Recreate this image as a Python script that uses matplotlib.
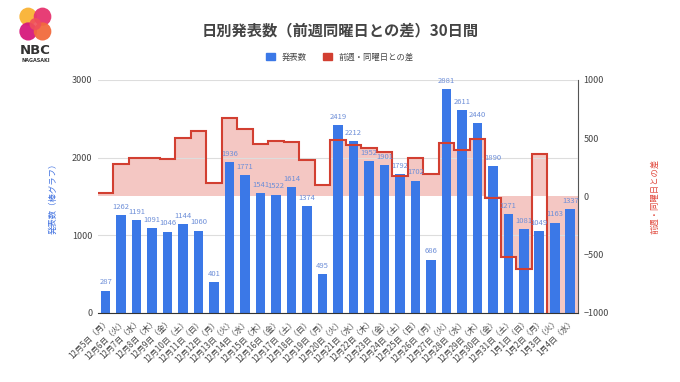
import numpy as np
import matplotlib
matplotlib.use('Agg')
import matplotlib.pyplot as plt
from matplotlib.patches import Patch, Circle

plt.rcParams['font.family'] = ['Noto Sans CJK JP', 'DejaVu Sans']

dates = ['12月5日（月）', '12月6日（火）', '12月7日（水）', '12月8日（木）', '12月9日（金）',
         '12月10日（土）', '12月11日（日）', '12月12日（月）', '12月13日（火）', '12月14日（水）',
         '12月15日（木）', '12月16日（金）', '12月17日（土）', '12月18日（日）', '12月19日（月）',
         '12月20日（火）', '12月21日（水）', '12月22日（木）', '12月23日（金）', '12月24日（土）',
         '12月25日（日）', '12月26日（月）', '12月27日（火）', '12月28日（水）', '12月29日（木）',
         '12月30日（金）', '12月31日（土）', '1月1日（日）', '1月2日（月）', '1月3日（火）',
         '1月4日（水）']
counts = [287, 1262, 1191, 1091, 1046, 1144, 1060, 401, 1936, 1771, 1541, 1522, 1614, 1374,
          495, 2419, 2212, 1952, 1901, 1792, 1702, 686, 2881, 2611, 2440, 1890, 1271, 1081,
          1049, 1163, 1337]
diff = [27, 276, 328, 328, 320, 500, 562, 114, 674, 580, 450, 476, 470, 314, 94, 483, 441,
        411, 379, 178, 328, 191, 462, 399, 488, -11, -521, -621, 363, -1718, -1274]

blue = '#3b78e7'
red = '#d23f31'
pink = '#f4c7c3'
grey = '#444444'

fig = plt.figure(figsize=(6.8, 3.82), dpi=100)
ax1 = fig.add_axes([0.144, 0.181, 0.706, 0.61])
ax2 = ax1.twinx()
ax1.set_zorder(2)
ax2.set_zorder(1)
ax1.patch.set_visible(False)

x = np.arange(len(counts))
edges = np.arange(len(counts) + 1) - 0.5

# stepped area (behind the bars)
ax2.stairs(diff, edges, baseline=0, fill=True, color=pink, lw=0)
ax2.set_ylim(-1000, 1000)
ax2.set_yticks([-1000, -500, 0, 500, 1000])
ax2.tick_params(axis='y', length=0, labelsize=6.5, labelcolor=grey, pad=4)
ax2.set_ylabel('前週・同曜日との差', color='#e0463a', fontsize=6, labelpad=30)

ax1.bar(x, counts, width=0.62, color=blue, zorder=2)
for i, v in enumerate(counts):
    ax1.annotate(str(v), (i, v), xytext=(0, 3), textcoords='offset points',
                 ha='center', va='bottom', fontsize=5.5, color='#6e8fd8', zorder=4)

# step line on top of the bars
ax1.stairs(diff, edges, baseline=None, transform=ax2.transData, color=red, lw=1.5, zorder=3)

ax1.set_xlim(-0.5, len(counts) - 0.5)
ax2.set_xlim(-0.5, len(counts) - 0.5)
ax1.set_ylim(0, 3000)
ax1.set_yticks([0, 1000, 2000, 3000])
ax1.grid(axis='y', color='#dddddd', lw=0.8, zorder=0)
ax1.set_axisbelow(True)
ax1.tick_params(axis='y', length=0, labelsize=6.5, labelcolor=grey, pad=4)
ax1.set_xticks(x)
ax1.set_xticklabels(dates, rotation=45, ha='right', rotation_mode='anchor', fontsize=5.8, color=grey)
ax1.tick_params(axis='x', length=0, pad=3)
ax1.set_ylabel('発表数（棒グラフ）', color='#3d6fe0', fontsize=6, labelpad=10)

for ax in (ax1, ax2):
    for s in ('top', 'left', 'right', 'bottom'):
        ax.spines[s].set_visible(False)
ax2.spines['right'].set_visible(True)
ax2.spines['right'].set_color('#555555')
ax1.spines['bottom'].set_visible(True)
ax1.spines['bottom'].set_color('#333333')

fig.text(0.5, 1 - 30 / 382, '日別発表数（前週同曜日との差）30日間', ha='center', va='center',
         fontsize=11, color=grey, fontweight='bold')
handles = [Patch(color=blue, label='発表数'), Patch(color=red, label='前週・同曜日との差')]
fig.legend(handles=handles, loc='center', bbox_to_anchor=(0.5, 1 - 57 / 382), ncol=2,
           frameon=False, fontsize=6, handlelength=1, handleheight=1, columnspacing=2,
           labelcolor=grey)

# logo
lg = fig.add_axes([0.028, 0.893, 0.048, 0.088])
lg.set_xlim(0, 1)
lg.set_ylim(0, 1)
lg.axis('off')
for (cx, cy, c) in [(0.28, 0.72, '#f9b233'), (0.72, 0.72, '#e6336f'),
                    (0.28, 0.28, '#d6197c'), (0.72, 0.28, '#f26a3d')]:
    lg.add_patch(Circle((cx, cy), 0.27, color=c, alpha=0.95, lw=0))
lg.add_patch(Circle((0.5, 0.5), 0.18, color='#ef4f5a', alpha=0.9, lw=0))
fig.text(0.052, 1 - 50 / 382, 'NBC', ha='center', va='center', fontsize=9.5,
         fontweight='bold', color='#333333', family='DejaVu Sans')
fig.text(0.052, 1 - 61 / 382, 'NAGASAKI', ha='center', va='center', fontsize=3.5,
         fontweight='bold', color='#333333', family='DejaVu Sans')

fig.savefig('out.png', dpi=100)
